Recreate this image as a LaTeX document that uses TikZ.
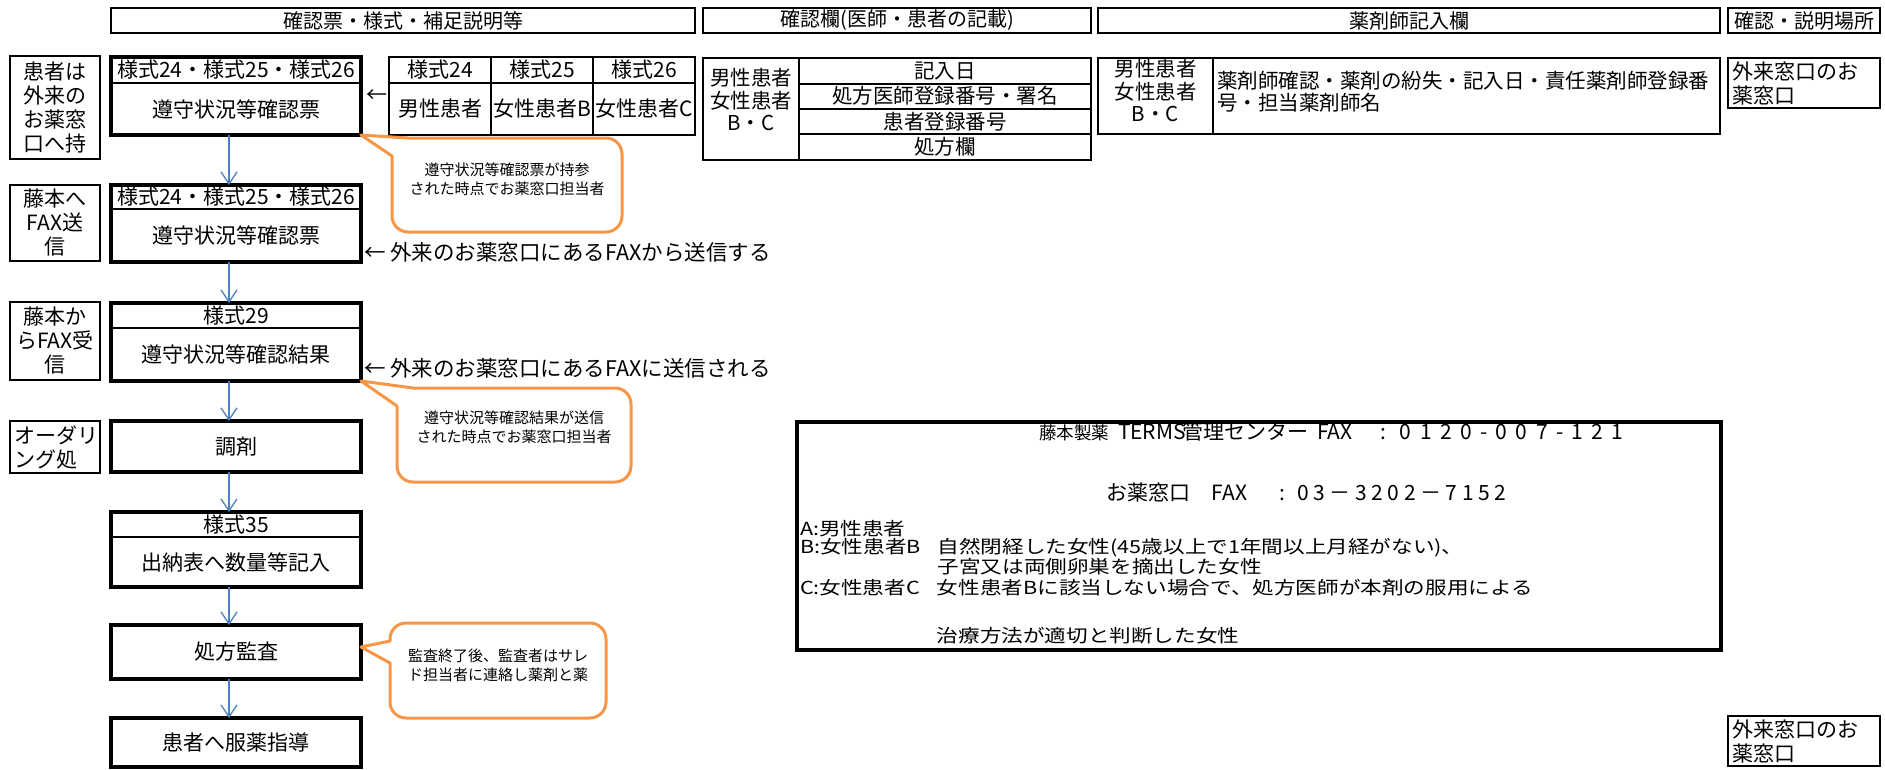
\documentclass[tikz,border=0pt]{standalone}
\usepackage{fontspec}
\setmainfont{Noto Sans CJK JP}
\newfontfamily\faxfont[FakeStretch=1.2]{Noto Sans CJK JP}
\usetikzlibrary{arrows.meta,fit}
\definecolor{calloutorange}{HTML}{F79646}
\definecolor{arrowblue}{HTML}{4F81BD}
\begin{document}
\begin{tikzpicture}[x=1pt,y=1pt,
  every node/.style={inner sep=0pt,outer sep=0pt},
  hdr/.style={draw,line width=2.2pt},
  lbl/.style={draw,line width=2.5pt},
  flow/.style={draw,line width=3.5pt},
  cell/.style={draw,line width=2pt},
  faxbox/.style={draw,line width=3.5pt},
  divider/.style={line width=2.5pt},
  fh/.style={font=\fontsize{20}{22}\selectfont},
  fm/.style={font=\fontsize{21}{23.5}\selectfont},
  fside/.style={font=\fontsize{21.5}{24}\selectfont,anchor=west},
  fl/.style={font=\fontsize{21}{24}\selectfont,align=center},
  ft/.style={font=\fontsize{20.5}{22.5}\selectfont},
  fs/.style={font=\fontsize{15}{19}\selectfont,align=center},
  ff/.style={font=\fontsize{21}{23}\selectfont,anchor=west},
  fw/.style={font=\faxfont\fontsize{18}{20}\selectfont,anchor=west},
  callout/.style={draw=calloutorange,line width=3pt,fill=white,line join=round},
  flowarrow/.style={draw=arrowblue,line width=1.3pt,-{Straight Barb[length=12pt,width=16pt]}}
]
\useasboundingbox (0,0) rectangle (1885,-769);
% headers
\node[hdr,fit={(111,-8)(695,-33)}] (h1) {};
\node[fh] (h1t) at (h1.center) {確認票・様式・補足説明等};
\node[hdr,fit={(703,-8)(1091,-33)}] (h2) {};
\node[fh] (h2t) at (h2.center) {確認欄(医師・患者の記載)};
\node[hdr,fit={(1098,-8)(1720,-33)}] (h3) {};
\node[fh] (h3t) at (h3.center) {薬剤師記入欄};
\node[hdr,fit={(1728,-8)(1880,-33)}] (h4) {};
\node[fh] (h4t) at (h4.center) {確認・説明場所};
% left labels
\node[lbl,fit={(10,-56)(100,-159)}] (l1) {};
\node[fl] (l1t) at (l1.center) {患者は\\外来の\\お薬窓\\口へ持};
\node[lbl,fit={(10,-185)(100,-261)}] (l2) {};
\node[fl] (l2t) at (l2.center) {藤本へ\\FAX送\\信};
\node[lbl,fit={(10,-302)(100,-380)}] (l3) {};
\node[fl] (l3t) at (l3.center) {藤本か\\らFAX受\\信};
\node[lbl,fit={(10,-421)(100,-473)}] (l4) {};
\node[fl,align=left,anchor=west] (l4t) at ([xshift=4pt]l4.west) {オーダリ\\ング処};
% flow boxes
\node[flow,fit={(111,-57)(361,-135)}] (b1) {};
\draw[divider] (111,-83) -- (361,-83);
\node[fm] (b1h) at (236,-70) {様式24・様式25・様式26};
\node[fm] (b1b) at (236,-109) {遵守状況等確認票};
\node[flow,fit={(111,-185)(361,-262)}] (b2) {};
\draw[divider] (111,-209) -- (361,-209);
\node[fm] (b2h) at (236,-197) {様式24・様式25・様式26};
\node[fm] (b2b) at (236,-235.5) {遵守状況等確認票};
\node[flow,fit={(111,-303)(361,-381)}] (b3) {};
\draw[divider] (111,-328) -- (361,-328);
\node[fm] (b3h) at (236,-315.5) {様式29};
\node[fm] (b3b) at (236,-354.5) {遵守状況等確認結果};
\node[flow,fit={(111,-421)(361,-472)}] (b4) {};
\node[fm] (b4t) at (b4.center) {調剤};
\node[flow,fit={(111,-512)(361,-587)}] (b5) {};
\draw[divider] (111,-537) -- (361,-537);
\node[fm] (b5h) at (236,-524.5) {様式35};
\node[fm] (b5b) at (236,-562) {出納表へ数量等記入};
\node[flow,fit={(111,-625)(361,-679)}] (b6) {};
\node[fm] (b6t) at (b6.center) {処方監査};
\node[flow,fit={(111,-718)(361,-767)}] (b7) {};
\node[fm] (b7t) at (b7.center) {患者へ服薬指導};
% arrows
\coordinate (ax) at (229,0);
\foreach \a/\b in {b1/b2,b2/b3,b3/b4,b4/b5,b5/b6,b6/b7}
  \draw[flowarrow] (\a.south -| ax) -- (\b.north -| ax);
% table 1
\node[cell,fit={(389,-57)(491,-83)}] (t1a) {};
\node[cell,fit={(491,-57)(593,-83)}] (t1b) {};
\node[cell,fit={(593,-57)(695,-83)}] (t1c) {};
\node[cell,fit={(389,-83)(491,-135)}] (t1d) {};
\node[cell,fit={(491,-83)(593,-135)}] (t1e) {};
\node[cell,fit={(593,-83)(695,-135)}] (t1f) {};
\node[fm] (t1at) at (t1a.center) {様式24};
\node[fm] (t1bt) at (t1b.center) {様式25};
\node[fm] (t1ct) at (t1c.center) {様式26};
\node[fm] (t1dt) at (t1d.center) {男性患者};
\node[fm] (t1et) at (t1e.center) {女性患者B};
\node[fm] (t1ft) at (t1f.center) {女性患者C};
\node[fm] (arr1) at (377,-96) {←};
% table 2
\node[cell,fit={(703,-58)(799,-160)}] (t2a) {};
\node[ft,align=center] (t2at) at (751,-100) {男性患者\\女性患者\\B・C};
\node[cell,fit={(799,-58)(1091,-83.5)}] (t2b) {};
\node[ft] (t2bt) at (t2b.center) {記入日};
\node[cell,fit={(799,-83.5)(1091,-108.5)}] (t2c) {};
\node[ft] (t2ct) at (t2c.center) {処方医師登録番号・署名};
\node[cell,fit={(799,-108.5)(1091,-134)}] (t2d) {};
\node[ft] (t2dt) at (t2d.center) {患者登録番号};
\node[cell,fit={(799,-134)(1091,-160)}] (t2e) {};
\node[ft] (t2et) at (t2e.center) {処方欄};
% table 3
\node[cell,fit={(1098,-58)(1213,-134)}] (t3a) {};
\node[ft,align=center] (t3at) at (1155.5,-91) {男性患者\\女性患者\\B・C};
\node[cell,fit={(1213,-58)(1720,-134)}] (t3b) {};
\node[ft,align=left,anchor=west] (t3bt) at (1217,-92) {薬剤師確認・薬剤の紛失・記入日・責任薬剤師登録番\\号・担当薬剤師名};
% right boxes
\node[lbl,fit={(1728,-58)(1880,-108)}] (r1) {};
\node[fl,align=left,anchor=west] (r1t) at (1732,-83.5) {外来窓口のお\\薬窓口};
\node[lbl,fit={(1728,-716)(1880,-766)}] (r2) {};
\node[fl,align=left,anchor=west] (r2t) at (1732,-741) {外来窓口のお\\薬窓口};
% side texts
\node[fside] (s1) at (364,-252) {← 外来のお薬窓口にあるFAXから送信する};
\node[fside] (s2) at (364,-368) {← 外来のお薬窓口にあるFAXに送信される};
% callouts
\draw[callout] (392,-156) -- (b1.south east) -- (408,-138) -- (606,-138)
  arc[start angle=90,end angle=0,radius=16] -- (622,-216)
  arc[start angle=0,end angle=-90,radius=16] -- (408,-232)
  arc[start angle=270,end angle=180,radius=16] -- cycle;
\node[fs] (c1t) at (507,-179.5) {遵守状況等確認票が持参\\された時点でお薬窓口担当者};
\draw[callout] (397,-406) -- (b3.south east) -- (413,-388) -- (615,-388)
  arc[start angle=90,end angle=0,radius=16] -- (631,-466)
  arc[start angle=0,end angle=-90,radius=16] -- (413,-482)
  arc[start angle=270,end angle=180,radius=16] -- cycle;
\node[fs] (c2t) at (514,-427) {遵守状況等確認結果が送信\\された時点でお薬窓口担当者};
\draw[callout] (390,-641) -- ([yshift=5pt]b6.east) -- (390,-663) -- (390,-702)
  arc[start angle=180,end angle=270,radius=16] -- (590,-718)
  arc[start angle=270,end angle=360,radius=16] -- (606,-639)
  arc[start angle=0,end angle=90,radius=16] -- (406,-623)
  arc[start angle=90,end angle=180,radius=16] -- cycle;
\node[fs] (c3t) at (498,-665) {監査終了後、監査者はサレ\\ド担当者に連絡し薬剤と薬};
% FAX box
\node[faxbox,fit={(797,-422)(1721,-650)}] (fax) {};
\node[ff] (f1) at (1039,-431) {\makebox[79pt][l]{\fontsize{17.5}{20}\selectfont 藤本製薬}\makebox[64pt][l]{TERMS}\makebox[135pt][l]{管理センター}\makebox[64pt][l]{FAX}\makebox[19pt][l]{:}{\addfontfeature{LetterSpace=40}0120-007-121}};
\node[ff] (f2) at (1106,-493) {\makebox[106pt][l]{お薬窓口}\makebox[68pt][l]{FAX}\makebox[17pt][l]{:}{\addfontfeature{LetterSpace=22}03－3202－7152}};
\node[fw] (f3) at (800,-529) {A:男性患者};
\node[fw] (f4) at (800,-548) {B:女性患者B\hspace{17pt}自然閉経した女性(45歳以上で1年間以上月経がない)、};
\node[fw] (f5) at (800,-567) {\phantom{B:女性患者B}\hspace{17pt}子宮又は両側卵巣を摘出した女性};
\node[fw] (f6) at (800,-588) {C:女性患者C\hspace{17pt}女性患者Bに該当しない場合で、処方医師が本剤の服用による};
\node[fw] (f7) at (800,-636) {\phantom{C:女性患者C}\hspace{17pt}治療方法が適切と判断した女性};
\end{tikzpicture}
\end{document}
